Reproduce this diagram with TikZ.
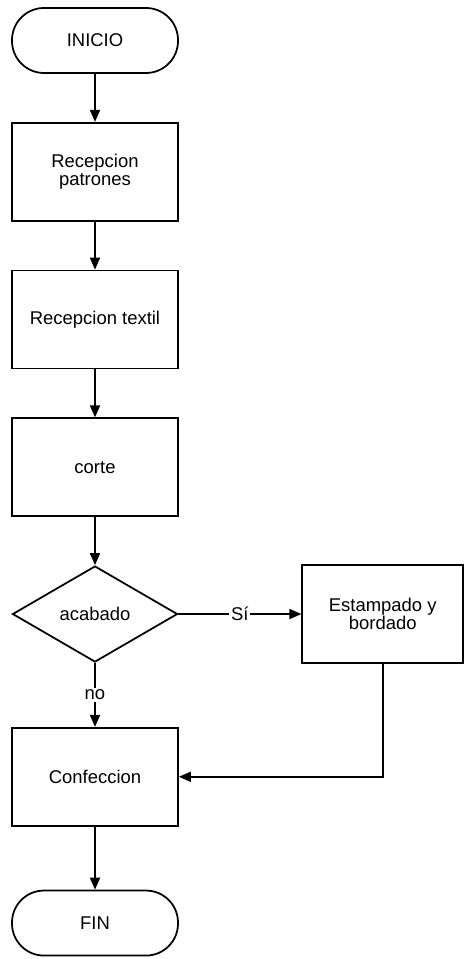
\documentclass[tikz,border=0pt]{standalone}
\usepackage{fontspec}
\setmainfont{Liberation Sans}
\usetikzlibrary{positioning}
\usetikzlibrary{shapes.geometric}
\usetikzlibrary{arrows.meta}

\begin{document}
\begin{tikzpicture}[>={Triangle[length=2.4mm,width=2mm]}, line width=1pt,
    node distance=0.96cm,
    every node/.style={font=\fontsize{10.5}{10.5}\selectfont},
    proceso/.style={draw, rectangle, minimum width=3.32cm, minimum height=1.96cm, align=center},
    terminal/.style={draw, rectangle, rounded corners=0.64cm, minimum width=3.32cm, minimum height=1.3cm},
    decision/.style={draw, diamond, minimum width=3.3cm, minimum height=1.92cm, inner sep=0pt},
    etiqueta/.style={fill=white, inner sep=1pt}]
      \useasboundingbox (0,0) rectangle (9.26,-19.18);

      % Main column
      \node[terminal] (inicio) at (1.9,-0.81) {INICIO};
      \node[proceso, below=of inicio] (patrones) {Recepcion\\patrones};
      \node[proceso, below=of patrones] (textil) {Recepcion textil};
      \node[proceso, below=of textil] (corte) {corte};
      \node[decision, below=of corte] (acabado) {acabado};
      \node[proceso, below=1.28cm of acabado] (confeccion) {Confeccion};
      \node[terminal, below=1.26cm of confeccion] (fin) {FIN};

      % Side branch
      \node[proceso, minimum width=3.22cm, right=2.46cm of acabado] (estampado) {Estampado y\\bordado};

      \draw[->] (inicio) -- (patrones);
      \draw[->] (patrones) -- (textil);
      \draw[->] (textil) -- (corte);
      \draw[->] (corte) -- (acabado);
      \draw[->] (acabado) -- node[etiqueta]{S\'i} (estampado);
      \draw[->] (acabado) -- node[etiqueta]{no} (confeccion);
      \draw[->] (estampado.south) |- (confeccion.east);
      \draw[->] (confeccion) -- (fin);
\end{tikzpicture}
\end{document}
